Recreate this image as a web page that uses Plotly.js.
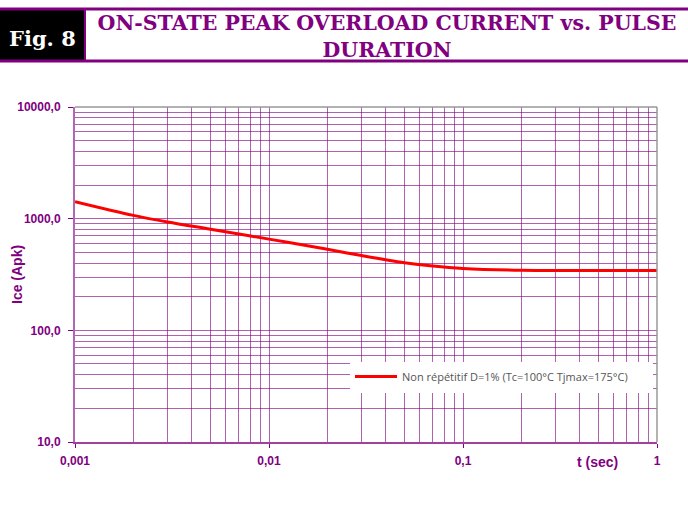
<!DOCTYPE html>
<html>
<head>
<meta charset="utf-8">
<script src="https://cdn.plot.ly/plotly-3.0.1.min.js"></script>
<style>html,body{margin:0;padding:0;background:#fff;}#chart{width:688px;height:507px;}</style>
</head>
<body>
<div id="chart"></div>
<script>
// Data
var pulseDuration = [0.001, 0.002, 0.003, 0.005, 0.01, 0.02, 0.03, 0.05, 0.07, 0.1, 0.2, 0.5, 1];
var iceApk = [1420, 1070, 933, 804, 656, 532, 467, 403, 376, 358, 345, 343, 343];
var seriesName = "Non répétitif D=1% (Tc=100°C Tjmax=175°C)";
var xTickVals = [0.001, 0.01, 0.1, 1];
var xTickText = ["0,001", "0,01", "0,1", "1"];
var yTickVals = [10, 100, 1000, 10000];
var yTickText = ["10,0", "100,0", "1000,0", "10000,0"];

var purple = "#800080";
var gridCol = "rgba(128,0,128,0.62)";

function minorVals(lo, hi) {
  var out = [];
  for (var d = lo; d < hi; d *= 10) {
    for (var k = 2; k <= 9; k++) out.push(k * d);
  }
  return out;
}

var W = 688, H = 507, L = 75, R = 31, T = 107, B = 65;
var pw = W - L - R, ph = H - T - B;
function px(x) { return (x - L) / pw; }
function py(y) { return (H - B - y) / ph; }

var trace = {
  x: pulseDuration, y: iceApk, type: "scatter", mode: "lines",
  name: seriesName, line: {color: "#ff0000", width: 3, shape: "spline"}
};

var layout = {
  width: W, height: H,
  margin: {l: L, r: R, t: T, b: B},
  paper_bgcolor: "#fff", plot_bgcolor: "#fff",
  showlegend: true,
  title: {
    text: "<b>ON-STATE PEAK OVERLOAD CURRENT vs. PULSE<br>DURATION</b>",
    x: 387 / W, y: 1 - 30 / H, xanchor: "center", yanchor: "middle",
    font: {family: "DejaVu Serif", size: 20.5, color: purple}
  },
  legend: {
    x: px(350), y: py(362), xanchor: "left", yanchor: "top",
    bgcolor: "#ffffff", borderwidth: 0, itemwidth: 42,
    font: {family: "Open Sans", size: 11, color: "#555555"}
  },
  xaxis: {
    type: "log", range: [-3, 0],
    tickmode: "array", tickvals: xTickVals, ticktext: xTickText,
    tickfont: {family: "Liberation Sans", size: 12, color: purple, weight: "bold"},
    showgrid: true, gridcolor: gridCol, gridwidth: 1,
    ticks: "outside", ticklen: 4, tickcolor: purple, ticklabelstandoff: 3,
    showline: true, linecolor: "rgba(128,0,128,0.75)", linewidth: 2,
    minor: {tickmode: "array", tickvals: minorVals(0.001, 1), showgrid: true, gridcolor: gridCol, gridwidth: 1},
    zeroline: false
  },
  yaxis: {
    type: "log", range: [1, 4],
    tickmode: "array", tickvals: yTickVals, ticktext: yTickText,
    tickfont: {family: "Liberation Sans", size: 12, color: purple, weight: "bold"},
    showgrid: true, gridcolor: gridCol, gridwidth: 1,
    ticks: "outside", ticklen: 5, tickcolor: purple, ticklabelstandoff: 5,
    showline: true, linecolor: "rgba(128,0,128,0.6)", linewidth: 2,
    minor: {tickmode: "array", tickvals: minorVals(10, 10000), showgrid: true, gridcolor: gridCol, gridwidth: 1},
    zeroline: false
  },
  shapes: [
    {type: "rect", xref: "paper", yref: "paper", x0: px(0), x1: px(85), y0: py(61), y1: py(10), fillcolor: "#000", line: {width: 0}},
    {type: "line", xref: "paper", yref: "paper", x0: px(0), x1: px(688), y0: py(9), y1: py(9), line: {color: purple, width: 3}},
    {type: "line", xref: "paper", yref: "paper", x0: px(0), x1: px(688), y0: py(61), y1: py(61), line: {color: purple, width: 3}},
    {type: "line", xref: "paper", yref: "paper", x0: px(85), x1: px(85), y0: py(61), y1: py(9), line: {color: purple, width: 2}},
    {type: "rect", xref: "paper", yref: "paper", layer: "above", x0: px(350), x1: px(653), y0: py(393), y1: py(362), fillcolor: "#ffffff", line: {width: 0}},
    {type: "line", xref: "paper", yref: "paper", x0: 0, x1: 1, y0: 1, y1: 1, line: {color: "#999999", width: 1.5}},
    {type: "line", xref: "paper", yref: "paper", x0: 1, x1: 1, y0: 0, y1: 1, line: {color: "#999999", width: 1.5}}
  ],
  annotations: [
    {text: "<b>Fig. 8</b>", xref: "paper", yref: "paper", x: px(42), y: py(38), xanchor: "center", yanchor: "middle", showarrow: false,
     font: {family: "DejaVu Serif", size: 21, color: "#ffffff"}},
    {text: "<b>t (sec)</b>", xref: "paper", yref: "paper", x: px(597), y: py(462), xanchor: "center", yanchor: "middle", showarrow: false,
     font: {family: "Liberation Sans", size: 14, color: purple}},
    {text: "<b>Ice (Apk)</b>", xref: "paper", yref: "paper", x: px(17), y: py(274), xanchor: "center", yanchor: "middle", showarrow: false,
     textangle: -90, font: {family: "Liberation Sans", size: 14, color: purple}}
  ]
};

Plotly.newPlot("chart", [trace], layout, {displayModeBar: false, staticPlot: true});
</script>
</body>
</html>
